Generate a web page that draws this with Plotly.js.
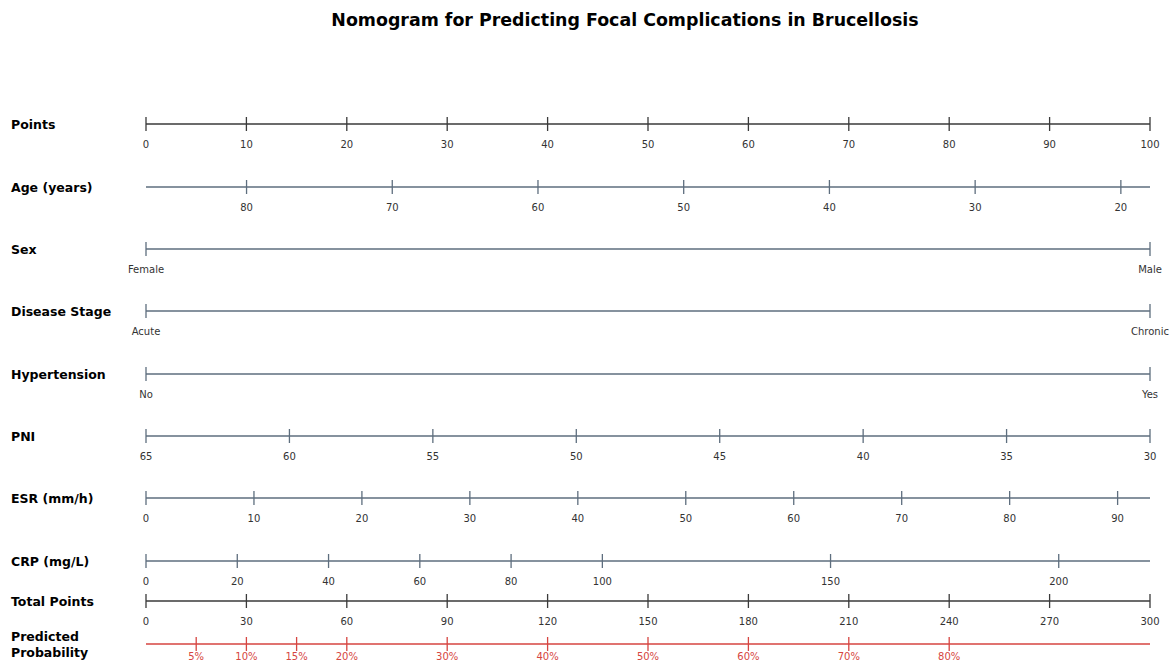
<!DOCTYPE html>
<html>
<head>
<meta charset="utf-8">
<script src="https://cdn.plot.ly/plotly-3.0.1.min.js"></script>
<style>html,body{margin:0;padding:0;background:#fff;}#chart{width:1173px;height:663px;}</style>
</head>
<body>
<div id="chart"></div>
<script>
// ---------------- DATA ----------------
const rowNames = ["Points", "Age (years)", "Sex", "Disease Stage", "Hypertension", "PNI", "ESR (mm/h)", "CRP (mg/L)", "Total Points", "Predicted<br>Probability"];

const pointsTicks = [0, 10, 20, 30, 40, 50, 60, 70, 80, 90, 100];

const ageTicks = [80, 70, 60, 50, 40, 30, 20];
const ageScale = [86.9, 18.0];          // age at 0 points, age at 100 points

const sexLevels = ["Female", "Male"];
const sexPoints = [0, 100];

const stageLevels = ["Acute", "Chronic"];
const stagePoints = [0, 100];

const htnLevels = ["No", "Yes"];
const htnPoints = [0, 100];

const pniTicks = [65, 60, 55, 50, 45, 40, 35, 30];
const pniScale = [65, 30];

const esrTicks = [0, 10, 20, 30, 40, 50, 60, 70, 80, 90];
const esrScale = [0, 93];

const crpTicks = [0, 20, 40, 60, 80, 100, 150, 200];
const crpScale = [0, 220];

const totalTicks = [0, 30, 60, 90, 120, 150, 180, 210, 240, 270, 300];
const totalScale = [0, 300];

const probLabels = ["5%", "10%", "15%", "20%", "30%", "40%", "50%", "60%", "70%", "80%"];
const probTotalPoints = [15, 30, 45, 60, 90, 120, 150, 180, 210, 240];

// ---------------- LAYOUT / STYLE ----------------
const rowY = [124, 187, 249, 311, 374, 436, 498, 561, 601, 644];
const labelOffset = 21;
const DARK = "#3a3a3a", SLATE = "#5e6e7e", RED = "#d64541", TXT = "#333333";
const FONT = "DejaVu Sans";

function toPts(v, scale) { return (v - scale[0]) / (scale[1] - scale[0]) * 100; }

const traces = [];
function addRow(i, tickPts, labels, color, opts) {
  opts = opts || {};
  const y = rowY[i];
  const off = opts.labelOffset || labelOffset;
  traces.push({x: [0, 100], y: [y, y], mode: "lines", line: {color: color, width: 1.5}, hoverinfo: "skip", cliponaxis: false});
  traces.push({x: tickPts, y: tickPts.map(() => y), mode: "markers", hoverinfo: "skip", cliponaxis: false,
    marker: {symbol: "line-ns", size: 10, line: {color: color, width: 1.3}, color: color}});
  traces.push({x: tickPts, y: tickPts.map(() => y + off), mode: "text", text: labels.map(String),
    textposition: "middle center", hoverinfo: "skip", cliponaxis: false,
    textfont: {family: FONT, size: 10, color: opts.textColor || TXT}});
}

addRow(0, pointsTicks, pointsTicks, DARK);
addRow(1, ageTicks.map(v => toPts(v, ageScale)), ageTicks, SLATE);
addRow(2, sexPoints, sexLevels, SLATE);
addRow(3, stagePoints, stageLevels, SLATE);
addRow(4, htnPoints, htnLevels, SLATE);
addRow(5, pniTicks.map(v => toPts(v, pniScale)), pniTicks, SLATE);
addRow(6, esrTicks.map(v => toPts(v, esrScale)), esrTicks, SLATE);
addRow(7, crpTicks.map(v => toPts(v, crpScale)), crpTicks, SLATE);
addRow(8, totalTicks.map(v => toPts(v, totalScale)), totalTicks, DARK);
addRow(9, probTotalPoints.map(v => toPts(v, totalScale)), probLabels, RED, {textColor: RED, labelOffset: 13});

const annotations = rowNames.map((n, i) => ({
  text: n, xref: "paper", yref: "y", x: 9 / 1173, y: rowY[i], xanchor: "left", yanchor: "middle",
  align: "left", showarrow: false, font: {family: FONT, size: 12.5, color: "#000", weight: "bold"}
}));

const W = 1173, H = 663, x0px = 146, x100px = 1150;
const ppu = (x100px - x0px) / 100;

const layout = {
  width: W, height: H,
  margin: {l: 0, r: 0, t: 0, b: 0},
  paper_bgcolor: "#ffffff", plot_bgcolor: "#ffffff",
  showlegend: false,
  title: {text: "Nomogram for Predicting Focal Complications in Brucellosis", x: 625 / W, xanchor: "center",
    y: 1 - 20 / H, yanchor: "middle", font: {family: FONT, size: 17.4, color: "#000", weight: "bold"}},
  xaxis: {range: [-x0px / ppu, (W - x0px) / ppu], visible: false, fixedrange: true},
  yaxis: {range: [H, 0], visible: false, fixedrange: true},
  annotations: annotations
};

Plotly.newPlot("chart", traces, layout, {displayModeBar: false, staticPlot: true});
</script>
</body>
</html>
